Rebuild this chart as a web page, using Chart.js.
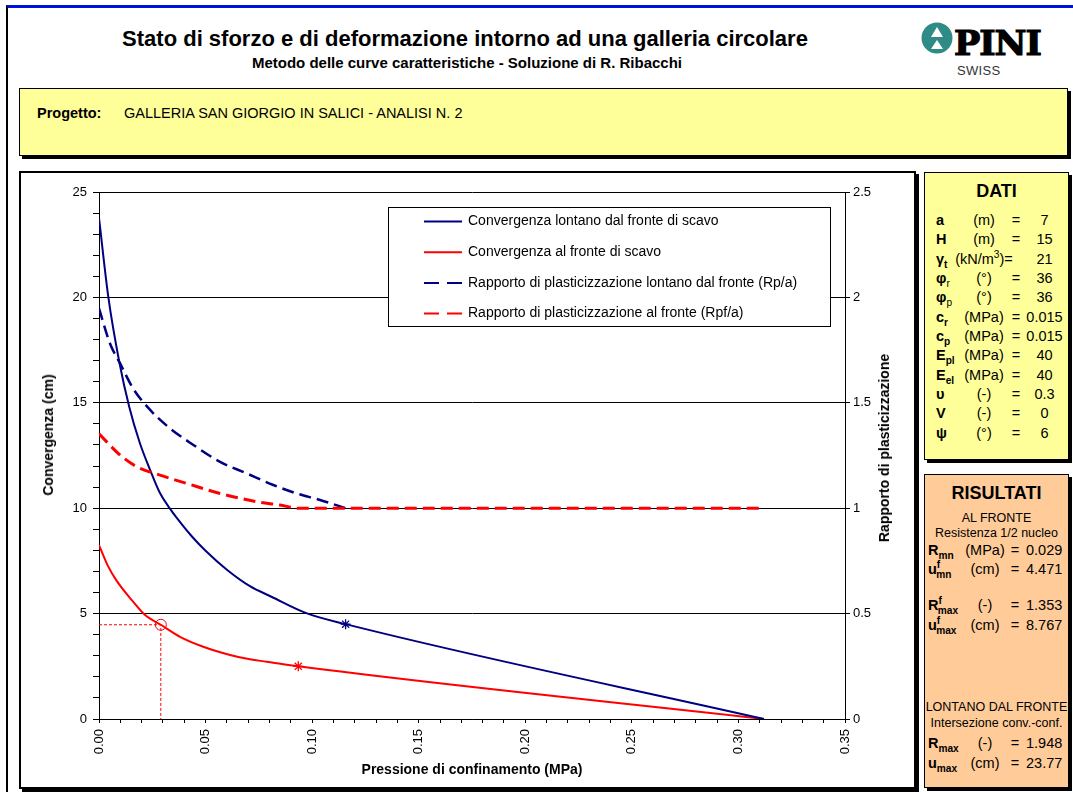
<!DOCTYPE html>
<html>
<head>
<meta charset="utf-8">
<title>Curve caratteristiche</title>
<script src="https://cdn.jsdelivr.net/npm/chart.js@4.4.0/dist/chart.umd.min.js"></script>
<style>
  html, body { margin: 0; padding: 0; background: #fff; }
  body { width: 1073px; height: 792px; position: relative; overflow: hidden;
         font-family: Arial, "Liberation Sans", sans-serif; color: #000; }
  .frame { position: absolute; left: 6px; top: 5px; width: 1100px; height: 800px;
           border-top: 3px solid #0010e0; border-left: 2px solid #000; }
  .title { position: absolute; left: 0; width: 930px; top: 26px; text-align: center;
           font-weight: bold; font-size: 22px; }
  .subtitle { position: absolute; left: 0; width: 934px; top: 54px; text-align: center;
              font-weight: bold; font-size: 15px; }
  .box { position: absolute; border: 1px solid #000; box-shadow: 3px 3px 0 #000; }
  .progetto { left: 19px; top: 88px; width: 1047px; height: 66px; background: #ffff99; }
  .progetto span { position: absolute; top: 16px; font-size: 14.5px; }
  .chartbox { left: 19px; top: 171px; width: 893px; height: 614px; background: #fff;
              border-width: 2px; }
  canvas { position: absolute; left: 22px; top: 173px; }
  .ytitle { position: absolute; font-weight: bold; font-size: 14px; white-space: nowrap;
            transform: translate(-50%, -50%) rotate(-90deg); }
  .dati { left: 924px; top: 172px; width: 143px; height: 286px; background: #ffff99; }
  .ris { left: 924px; top: 474px; width: 143px; height: 312px; background: #ffcc99; }
  .head { position: absolute; left: 0; width: 100%; text-align: center; font-weight: bold; font-size: 18px; }
  .row { position: absolute; left: 0; width: 100%; height: 19px; font-size: 14.5px; line-height: 19px; }
  .row div { position: absolute; top: 0; white-space: nowrap; }
  .sym { font-weight: bold; }
  .dati .sym { left: 11px; }
  .dati .unit { left: 30px; width: 58px; text-align: center; }
  .dati .eq { left: 85px; width: 12px; text-align: center; }
  .dati .val { left: 96px; width: 47px; text-align: center; }
  .ris .sym { left: 3px; }
  .ris .unit { left: 34px; width: 52px; text-align: center; }
  .ris .eq { left: 84px; width: 12px; text-align: center; }
  .ris .val { left: 101px; }
  .note { position: absolute; left: 0; width: 100%; text-align: center; font-size: 12.5px; white-space: nowrap; }
  sub, sup { font-size: 70%; line-height: 0; }
  .logo { position: absolute; left: 920px; top: 22px; }
  .pini { position: absolute; left: 954px; top: 24px; font-family: "DejaVu Serif", serif; font-weight: bold;
          font-size: 33px; letter-spacing: -1px; transform: scaleX(1.06); transform-origin: left;
          -webkit-text-stroke: 1.2px #000; }
  .swiss { position: absolute; left: 957px; top: 63px; font-size: 13px; color: #333; letter-spacing: 0.3px; }
</style>
</head>
<body>
<div class="frame"></div>
<div class="title">Stato di sforzo e di deformazione intorno ad una galleria circolare</div>
<div class="subtitle">Metodo delle curve caratteristiche - Soluzione di R. Ribacchi</div>

<svg class="logo" width="34" height="34" viewBox="0 0 34 34">
  <circle cx="17" cy="16" r="15.5" fill="#2e8b86"/>
  <polygon points="17,5 23,15 11,15" fill="#fff"/>
  <polygon points="17,18 23,27 11,27" fill="#fff"/>
</svg>
<div class="pini">PINI</div>
<div class="swiss">SWISS</div>

<div class="box progetto">
  <span style="left:17px;font-weight:bold;">Progetto:</span>
  <span style="left:104px;">GALLERIA SAN GIORGIO IN SALICI - ANALISI N. 2</span>
</div>

<div class="box chartbox"></div>
<canvas id="chart" width="890" height="613"></canvas>
<div class="ytitle" style="left:48px;top:435px;">Convergenza (cm)</div>
<div class="ytitle" style="left:884px;top:448px;">Rapporto di plasticizzazione</div>

<div class="box dati">
  <div class="head" style="top:8px;">DATI</div>
  <div class="row" style="top:38px;"><div class="sym">a</div><div class="unit">(m)</div><div class="eq">=</div><div class="val">7</div></div>
  <div class="row" style="top:57px;"><div class="sym">H</div><div class="unit">(m)</div><div class="eq">=</div><div class="val">15</div></div>
  <div class="row" style="top:77px;"><div class="sym">&gamma;<sub>t</sub></div><div class="unit">(kN/m<sup>3</sup>)=</div><div class="val">21</div></div>
  <div class="row" style="top:96px;"><div class="sym">&phi;<sub style="font-weight:normal">r</sub></div><div class="unit">(°)</div><div class="eq">=</div><div class="val">36</div></div>
  <div class="row" style="top:115px;"><div class="sym">&phi;<sub style="font-weight:normal">p</sub></div><div class="unit">(°)</div><div class="eq">=</div><div class="val">36</div></div>
  <div class="row" style="top:135px;"><div class="sym">c<sub>r</sub></div><div class="unit">(MPa)</div><div class="eq">=</div><div class="val">0.015</div></div>
  <div class="row" style="top:154px;"><div class="sym">c<sub>p</sub></div><div class="unit">(MPa)</div><div class="eq">=</div><div class="val">0.015</div></div>
  <div class="row" style="top:173px;"><div class="sym">E<sub>pl</sub></div><div class="unit">(MPa)</div><div class="eq">=</div><div class="val">40</div></div>
  <div class="row" style="top:193px;"><div class="sym">E<sub>el</sub></div><div class="unit">(MPa)</div><div class="eq">=</div><div class="val">40</div></div>
  <div class="row" style="top:212px;"><div class="sym">&upsilon;</div><div class="unit">(-)</div><div class="eq">=</div><div class="val">0.3</div></div>
  <div class="row" style="top:231px;"><div class="sym">V</div><div class="unit">(-)</div><div class="eq">=</div><div class="val">0</div></div>
  <div class="row" style="top:251px;"><div class="sym">&psi;</div><div class="unit">(°)</div><div class="eq">=</div><div class="val">6</div></div>
</div>

<div class="box ris">
  <div class="head" style="top:8px;">RISULTATI</div>
  <div class="note" style="top:36px;">AL FRONTE</div>
  <div class="note" style="top:51px;">Resistenza 1/2 nucleo</div>
  <div class="row" style="top:66px;"><div class="sym">R<sub>mn</sub></div><div class="unit">(MPa)</div><div class="eq">=</div><div class="val">0.029</div></div>
  <div class="row" style="top:85px;"><div class="sym">u<sup>f</sup><sub style="margin-left:-4px">mn</sub></div><div class="unit">(cm)</div><div class="eq">=</div><div class="val">4.471</div></div>
  <div class="row" style="top:121px;"><div class="sym">R<sup>f</sup><sub style="margin-left:-4px">max</sub></div><div class="unit">(-)</div><div class="eq">=</div><div class="val">1.353</div></div>
  <div class="row" style="top:141px;"><div class="sym">u<sup>f</sup><sub style="margin-left:-4px">max</sub></div><div class="unit">(cm)</div><div class="eq">=</div><div class="val">8.767</div></div>
  <div class="note" style="top:225px;">LONTANO DAL FRONTE</div>
  <div class="note" style="top:241px;">Intersezione conv.-conf.</div>
  <div class="row" style="top:259px;"><div class="sym">R<sub>max</sub></div><div class="unit">(-)</div><div class="eq">=</div><div class="val">1.948</div></div>
  <div class="row" style="top:279px;"><div class="sym">u<sub>max</sub></div><div class="unit">(cm)</div><div class="eq">=</div><div class="val">23.77</div></div>
</div>

<script>
// pressione di confinamento (MPa) e convergenza (cm) lontano dal fronte
const pressLontano = [0, 0.0044, 0.0095, 0.0142, 0.0192, 0.024, 0.0286, 0.0333, 0.0364, 0.0434, 0.05, 0.06, 0.0708, 0.0809, 0.0976, 0.1157, 0.312];
const convLontano  = [23.77, 20.0, 16.95, 14.8, 13.08, 11.81, 10.72, 9.98, 9.55, 8.68, 7.98, 7.08, 6.3, 5.8, 5.01, 4.5, 0];

// convergenza al fronte
const pressFronte = [0, 0.004, 0.008, 0.0153, 0.0216, 0.029, 0.038, 0.0489, 0.0615, 0.0708, 0.0786, 0.0935, 0.312];
const convFronte  = [8.25, 7.3, 6.6, 5.65, 4.93, 4.47, 3.9, 3.43, 3.04, 2.83, 2.72, 2.5, 0];

// rapporto di plasticizzazione lontano dal fronte (Rp/a)
const pressRp = [0, 0.0052, 0.0099, 0.016, 0.024, 0.0333, 0.0443, 0.0568, 0.0693, 0.0818, 0.0927, 0.1037, 0.1157];
const rapportoRp = [1.948, 1.78, 1.687, 1.568, 1.466, 1.379, 1.30, 1.22, 1.165, 1.11, 1.07, 1.039, 1.0];

// rapporto di plasticizzazione al fronte (Rpf/a)
const pressRpf = [0, 0.0099, 0.0177, 0.0286, 0.041, 0.0568, 0.074, 0.0849, 0.0935, 0.312];
const rapportoRpf = [1.353, 1.252, 1.197, 1.157, 1.118, 1.07, 1.031, 1.015, 1.0, 1.0];

// punti notevoli
const nucleoPress = 0.029, nucleoConv = 4.471;
const plastLontano = [0.1157, 4.5];
const plastFronte = [0.0935, 2.5];

const seriesNames = [
  'Convergenza lontano dal fronte di scavo',
  'Convergenza al fronte di scavo',
  'Rapporto di plasticizzazione lontano dal fronte (Rp/a)',
  'Rapporto di plasticizzazione al fronte (Rpf/a)'
];

const NAVY = '#000080', RED = '#ff0000';
const FONT = 'Arial, "Liberation Sans", sans-serif';

function pairs(xs, ys){
  return xs.map((x,i) => ({x: x, y: ys[i]}));
}

// legenda con riquadro dentro il grafico
const boxLegend = {
  id: 'boxLegend',
  afterDatasetsDraw(chart){
    const ctx = chart.ctx;
    const x0 = 366, y0 = 34, w = 442, h = 119;
    ctx.save();
    ctx.fillStyle = '#fff';
    ctx.fillRect(x0, y0, w, h);
    ctx.strokeStyle = '#000';
    ctx.lineWidth = 1;
    ctx.strokeRect(x0 + 0.5, y0 + 0.5, w, h);
    chart.data.datasets.slice(0, 4).forEach((ds, i) => {
      const y = y0 + 14.5 + i * 30.7;
      ctx.beginPath();
      ctx.setLineDash(ds.borderDash ? [15, 8] : []);
      ctx.strokeStyle = ds.borderColor;
      ctx.lineWidth = 2;
      ctx.moveTo(x0 + 36, y);
      ctx.lineTo(x0 + 74, y);
      ctx.stroke();
      ctx.setLineDash([]);
      ctx.fillStyle = '#000';
      ctx.font = '14px ' + FONT;
      ctx.textBaseline = 'middle';
      ctx.fillText(ds.label, x0 + 80, y);
    });
    ctx.restore();
  }
};

const tickFont = {family: FONT, size: 13};
const titleFont = {family: FONT, size: 14, weight: 'bold'};

new Chart(document.getElementById('chart'), {
  type: 'line',
  data: {
    datasets: [
      { label: seriesNames[0], data: pairs(pressLontano, convLontano), yAxisID: 'y',
        borderColor: NAVY, borderWidth: 2, pointRadius: 0, cubicInterpolationMode: 'monotone', order: 2 },
      { label: seriesNames[1], data: pairs(pressFronte, convFronte), yAxisID: 'y',
        borderColor: RED, borderWidth: 2, pointRadius: 0, cubicInterpolationMode: 'monotone', order: 2 },
      { label: seriesNames[2], data: pairs(pressRp, rapportoRp), yAxisID: 'y2',
        borderColor: NAVY, borderWidth: 2.5, borderDash: [12, 6], pointRadius: 0,
        cubicInterpolationMode: 'monotone', order: 3 },
      { label: seriesNames[3], data: pairs(pressRpf, rapportoRpf), yAxisID: 'y2',
        borderColor: RED, borderWidth: 3, borderDash: [12, 6], pointRadius: 0,
        cubicInterpolationMode: 'monotone', order: 1 },
      { label: 'nucleo', data: [{x: 0, y: nucleoConv}, {x: nucleoPress, y: nucleoConv}, {x: nucleoPress, y: 0}],
        yAxisID: 'y', borderColor: RED, borderWidth: 1, borderDash: [3, 2], pointRadius: 0, order: 4 },
      { label: 'R nucleo', data: [{x: nucleoPress, y: nucleoConv}], yAxisID: 'y', showLine: false,
        pointStyle: 'circle', pointRadius: 5.5, pointBorderColor: RED, pointBackgroundColor: 'rgba(0,0,0,0)',
        pointBorderWidth: 1, order: 0 },
      { label: 'plast lontano', data: [{x: plastLontano[0], y: plastLontano[1]}], yAxisID: 'y', showLine: false,
        pointStyle: 'star', pointRadius: 5, pointBorderColor: NAVY, pointBorderWidth: 1.3, order: 0 },
      { label: 'plast fronte', data: [{x: plastFronte[0], y: plastFronte[1]}], yAxisID: 'y', showLine: false,
        pointStyle: 'star', pointRadius: 5, pointBorderColor: RED, pointBorderWidth: 1.3, order: 0 }
    ]
  },
  options: {
    responsive: false,
    animation: false,
    layout: { padding: { top: 19, left: 0, right: 0, bottom: 0 } },
    elements: { line: { tension: 0 } },
    plugins: { legend: { display: false }, tooltip: { enabled: false } },
    scales: {
      x: {
        type: 'linear', min: 0, max: 0.35,
        afterFit: s => { s.height = 67; },
        border: { color: '#000', width: 1 },
        grid: { drawOnChartArea: false, tickLength: 4, tickColor: '#000' },
        ticks: {
          stepSize: 0.01, autoSkip: false, maxRotation: 90, minRotation: 90,
          padding: 6, color: '#000', font: tickFont,
          callback: v => (Math.round(v * 100) % 5 === 0 ? v.toFixed(2) : '')
        },
        title: { display: true, text: 'Pressione di confinamento (MPa)', color: '#000',
                 font: titleFont, padding: { top: 0, bottom: 7 } }
      },
      y: {
        position: 'left', min: 0, max: 25,
        afterFit: s => { s.width = 77; },
        border: { color: '#000', width: 1 },
        grid: { color: c => (c.tick.value % 5 === 0 ? '#000' : 'rgba(0,0,0,0)'),
                tickColor: '#000', tickLength: 6 },
        ticks: {
          stepSize: 1, autoSkip: false, padding: 6, color: '#000', font: tickFont,
          callback: v => (v % 5 === 0 ? v : '')
        }
      },
      y2: {
        position: 'right', min: 0, max: 2.5,
        afterFit: s => { s.width = 67; },
        border: { color: '#000', width: 1 },
        grid: { drawOnChartArea: false, tickColor: '#000', tickLength: 5 },
        ticks: { stepSize: 0.5, padding: 3, color: '#000', font: tickFont,
                 callback: v => String(v) }
      }
    }
  },
  plugins: [boxLegend]
});
</script>
</body>
</html>
